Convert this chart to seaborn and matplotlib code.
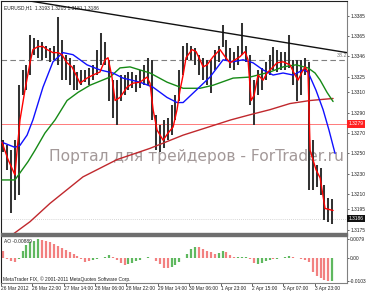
import numpy as np
import pandas as pd
import matplotlib
matplotlib.use("Agg")
import matplotlib.pyplot as plt
import matplotlib.transforms as mtrans
import seaborn as sns

# ---------------- data ----------------
symbol_info = "EURUSD,H1  1.3193 1.3205 1.3181 1.3186"
ao_info = "AO -0.00889"
copyright_info = "MetaTrader FIX, \u00a9 2001-2011 MetaQuotes Software Corp."
watermark = "Портал для трейдеров - ForTrader.ru"

bar_pos = list(range(1, 171, 2))  # bar index (hours, weekend skipped)
high = [1.3263, 1.3258, 1.3253, 1.3263, 1.3317, 1.3332, 1.3337, 1.3366, 1.3363, 1.3361,
        1.3359, 1.3356, 1.3354, 1.3356, 1.3384, 1.3361, 1.3347, 1.3344, 1.3337, 1.3330,
        1.3332, 1.3332, 1.3334, 1.3337, 1.3352, 1.3368, 1.3359, 1.3342, 1.3322, 1.3322,
        1.3327, 1.3327, 1.3330, 1.3330, 1.3327, 1.3332, 1.3337, 1.3344, 1.3342, 1.3288,
        1.3278, 1.3283, 1.3285, 1.3298, 1.3307, 1.3332, 1.3356, 1.3358, 1.3356, 1.3354,
        1.3347, 1.3344, 1.3342, 1.3342, 1.3352, 1.3356, 1.3376, 1.3361, 1.3354, 1.3350,
        1.3356, 1.3378, 1.3356, 1.3347, 1.3322, 1.3332, 1.3334, 1.3340, 1.3347, 1.3355,
        1.3352, 1.3350, 1.3350, 1.3366, 1.3342, 1.3342, 1.3342, 1.3344, 1.3340, 1.3263,
        1.3239, 1.3236, 1.3219, 1.3206, 1.3205]
low = [1.3251, 1.3234, 1.3192, 1.3204, 1.3209, 1.3307, 1.3312, 1.3327, 1.3347, 1.3344,
       1.3342, 1.3344, 1.3340, 1.3342, 1.3337, 1.3322, 1.3322, 1.3317, 1.3312, 1.3312,
       1.3317, 1.3320, 1.3317, 1.3322, 1.3327, 1.3337, 1.3337, 1.3302, 1.3285, 1.3278,
       1.3302, 1.3307, 1.3312, 1.3314, 1.3310, 1.3314, 1.3317, 1.3317, 1.3283, 1.3253,
       1.3251, 1.3255, 1.3263, 1.3268, 1.3283, 1.3302, 1.3327, 1.3342, 1.3342, 1.3337,
       1.3327, 1.3322, 1.3317, 1.3309, 1.3332, 1.3340, 1.3355, 1.3342, 1.3334, 1.3332,
       1.3337, 1.3347, 1.3340, 1.3298, 1.3278, 1.3307, 1.3312, 1.3322, 1.3327, 1.3332,
       1.3330, 1.3332, 1.3332, 1.3334, 1.3317, 1.3302, 1.3307, 1.3327, 1.3214, 1.3214,
       1.3217, 1.3209, 1.3185, 1.3183, 1.3181]

ma_red_x = [0.5, 3.6, 7.1, 8.2, 9.7, 12.2, 14.8, 16.3, 18.9, 21.4, 23.5, 26.5, 29.1, 31.1,
            33.7, 36.2, 38.3, 40.3, 43.9, 46.9, 50.5, 53.1, 54.6, 56.6, 58.2, 60.7, 64.3,
            67.3, 70.9, 74.5, 76.0, 77.6, 79.6, 82.7, 85.2, 87.8, 89.8, 91.3, 92.9, 94.4,
            97.4, 99.5, 101.5, 103.1, 105.1, 108.2, 111.7, 114.3, 116.8, 119.4, 121.9,
            124.5, 126.0, 127.6, 129.1, 131.1, 133.7, 135.7, 138.3, 140.8, 143.9, 147.4,
            150.0, 151.5, 153.6, 155.1, 156.6, 157.7, 160.7, 162.8, 165.3, 169.4]
ma_red_y = [1.3261, 1.3244, 1.3229, 1.3253, 1.3283, 1.3312, 1.3339, 1.3352, 1.3355, 1.3355,
            1.3352, 1.3349, 1.3349, 1.3347, 1.3339, 1.3335, 1.3327, 1.3319, 1.3324, 1.3327,
            1.3330, 1.3342, 1.3344, 1.3325, 1.3302, 1.3305, 1.3315, 1.3319, 1.3320, 1.3325,
            1.3319, 1.3293, 1.3273, 1.3263, 1.3270, 1.3276, 1.3293, 1.3312, 1.3327, 1.3344,
            1.3352, 1.3350, 1.3342, 1.3335, 1.3337, 1.3345, 1.3352, 1.3345, 1.3339, 1.3342,
            1.3345, 1.3350, 1.3342, 1.3302, 1.3307, 1.3327, 1.3322, 1.3329, 1.3334, 1.3339,
            1.3340, 1.3337, 1.3327, 1.3322, 1.3330, 1.3335, 1.3330, 1.3253, 1.3234, 1.3226,
            1.3196, 1.3194]

ma_blue_x = [0.5, 7.1, 9.7, 13.3, 16.3, 21.4, 26.5, 31.6, 36.7, 43.9, 50.5, 57.1, 62.2, 70.9,
             77.6, 84.7, 89.8, 92.9, 99.5, 106.6, 113.3, 118.4, 123.5, 128.6, 133.7, 138.8,
             143.9, 149.0, 154.1, 156.6, 160.7, 164.3, 167.3, 170.4]
ma_blue_y = [1.3261, 1.3256, 1.3258, 1.3268, 1.3283, 1.3315, 1.3340, 1.3349, 1.3347, 1.3337,
             1.3332, 1.3329, 1.3324, 1.3320, 1.3315, 1.3305, 1.3300, 1.3300, 1.3312, 1.3325,
             1.3342, 1.3340, 1.3342, 1.3339, 1.3332, 1.3327, 1.3329, 1.3327, 1.3332, 1.3330,
             1.3312, 1.3293, 1.3273, 1.3250]

ma_green_x = [0.5, 7.1, 9.7, 13.8, 17.3, 22.4, 27.6, 33.7, 39.3, 45.4, 55.6, 60.7, 65.8, 70.9,
              76.0, 84.7, 92.9, 101.5, 108.2, 118.4, 127.0, 137.2, 143.9, 150.5, 156.6,
              160.2, 162.8, 166.3, 169.4]
ma_green_y = [1.3224, 1.3224, 1.3231, 1.3242, 1.3253, 1.3270, 1.3283, 1.3302, 1.3310, 1.3317,
              1.3325, 1.3334, 1.3335, 1.3332, 1.3329, 1.3320, 1.3314, 1.3314, 1.3317, 1.3324,
              1.3325, 1.3330, 1.3335, 1.3337, 1.3334, 1.3329, 1.3322, 1.3310, 1.3301]

ma_slow_x = [5.6, 14.8, 25.0, 41.8, 59.2, 76.0, 92.9, 117.3, 127.0, 137.2, 147.4, 157.7, 169.4]
ma_slow_y = [1.3170, 1.3183, 1.3201, 1.3227, 1.3244, 1.3255, 1.3268, 1.3283, 1.3288, 1.3293,
             1.3299, 1.3302, 1.3304]

trend_x = [13.8, 176.5]
trend_y = [1.3400, 1.3349]
fib_level = 1.3342
fib_label = "38.2"
hline_level = 1.3279
last_price = 1.3186

ao = [0.0028, -0.0006, -0.0015, -0.0019, -0.0008, 0.0028, 0.0054, 0.0067, 0.0073, 0.0079,
      0.0077, 0.0071, 0.0065, 0.0058, 0.0050, 0.0042, 0.0034, 0.0025, 0.0015, 0.0006,
      -0.0008, -0.0018, -0.0017, -0.0012, -0.0008, -0.0004, 0.0002, 0.0012, 0.0004, -0.0012,
      -0.0024, -0.0033, -0.0030, -0.0024, -0.0016, -0.0009, -0.0004, 0.0003, -0.0004, -0.0015,
      -0.0030, -0.0045, -0.0047, -0.0043, -0.0034, -0.0020, -0.0003, 0.0015, 0.0035, 0.0046,
      0.0045, 0.0038, 0.0030, 0.0022, 0.0014, 0.0020, 0.0028, 0.0022, 0.0012, 0.0004,
      0.0003, 0.0004, 0.0002, -0.0008, -0.0022, -0.0026, -0.0022, -0.0014, -0.0010, -0.0008,
      -0.0006, -0.0004, 0.0004, 0.0006, 0.0004, -0.0002, -0.0008, -0.0010, -0.0018, -0.0062,
      -0.0080, -0.0090, -0.0098, -0.0103, -0.0100]
ao_up = [0, 0, 0, 0, 1, 1, 1, 1, 1, 1, 0, 0, 0, 0, 0, 0, 0, 0, 0, 0,
         0, 0, 0, 1, 1, 1, 1, 1, 0, 0, 0, 0, 1, 1, 1, 1, 0, 1, 0, 0,
         0, 0, 0, 1, 1, 1, 1, 1, 1, 1, 0, 0, 0, 0, 0, 1, 1, 0, 0, 0,
         1, 1, 1, 0, 0, 1, 1, 1, 1, 0, 1, 1, 1, 1, 0, 0, 0, 0, 0, 0,
         0, 0, 0, 0, 1]

main_ticks = [1.3385, 1.3365, 1.3346, 1.3325, 1.3310, 1.3290, 1.3270, 1.3250, 1.3230,
              1.3210, 1.3195, 1.3175]
ao_ticks = [0.0079, 0.0, -0.0103]
ao_tick_labels = ["0.0079", "0.00", "-0.0103"]
time_ticks = [0, 16, 32, 48, 64, 80, 96, 112, 128, 144, 160]
time_labels = ["26 Mar 2012", "26 Mar 22:00", "27 Mar 14:00", "28 Mar 06:00", "28 Mar 22:00",
               "29 Mar 14:00", "30 Mar 06:00", "1 Apr 23:00", "2 Apr 15:00", "3 Apr 07:00",
               "3 Apr 23:00"]

# ---------------- figure ----------------
sns.set_theme(style="white")
plt.rcParams["font.family"] = ["Liberation Sans", "DejaVu Sans"]

W, H = 366, 293
fig = plt.figure(figsize=(W / 100, H / 100), dpi=100)
fig.patch.set_facecolor("white")


def fx(px):
    return px / W


def fy(py):
    return 1 - py / H


ax = fig.add_axes([fx(1), fy(233), fx(347) - fx(1), fy(1) - fy(233)])
ax2 = fig.add_axes([fx(1), fy(283), fx(347) - fx(1), fy(236) - fy(283)])
XMAX = 176.5
for a in (ax, ax2):
    a.set_xlim(0, XMAX)
    a.set_facecolor("white")
ax.set_ylim(1.31719, 1.33997)
ax2.set_ylim(-0.01104, 0.00931)

small = 3.5

# horizontal levels
ax.axhline(hline_level, color="#ff7a7a", lw=0.7, zorder=1)
ax.axhline(fib_level, color="#808080", lw=0.8, ls=(0, (5, 3)), zorder=1)
ax.axhline(last_price, color="#c8c8c8", lw=0.6, ls=(0, (1, 1.5)), zorder=1)

# watermark (behind the data)
ax.text(0.566, 0.33, watermark, transform=ax.transAxes, ha="center", va="center",
        fontsize=11.2, color="#a39999", family="DejaVu Sans", zorder=2)

# price bars
ax.vlines(bar_pos, low, high, color="#333333", lw=1.45, zorder=3)

# moving averages
ma_df = pd.concat([
    pd.DataFrame({"x": ma_slow_x, "y": ma_slow_y, "ma": "slow"}),
    pd.DataFrame({"x": ma_green_x, "y": ma_green_y, "ma": "green"}),
    pd.DataFrame({"x": ma_blue_x, "y": ma_blue_y, "ma": "blue"}),
    pd.DataFrame({"x": ma_red_x, "y": ma_red_y, "ma": "red"}),
])
sns.lineplot(data=ma_df, x="x", y="y", hue="ma", estimator=None, sort=False,
             palette={"slow": "#c0282d", "green": "#168a16", "blue": "#1010ff", "red": "#ff0000"},
             lw=1.0, legend=False, ax=ax, zorder=4)

# trend line
ax.plot(trend_x, trend_y, color="#111111", lw=1.0, zorder=5, clip_on=True)

# AO histogram
ao_colors = ["#5fb85f" if u else "#f28080" for u in ao_up]
ax2.vlines(bar_pos, 0, ao, colors=ao_colors, lw=1.6)

# axes styling
for a in (ax, ax2):
    for s in a.spines.values():
        s.set_linewidth(0.8)
    a.spines["left"].set_color("#202020")
    a.spines["right"].set_color("#808080")
ax.spines["top"].set_color("#202020")
ax.spines["bottom"].set_visible(False)
ax2.spines["top"].set_visible(False)
ax2.spines["bottom"].set_color("#808080")

ax.yaxis.tick_right()
ax.set_yticks(main_ticks)
ax.set_yticklabels([f"{t:.4f}" for t in main_ticks])
ax.tick_params(axis="y", right=True, left=False, length=1.5, width=0.5, pad=1.0,
               labelsize=small, colors="#222222")
ax.set_xticks([])
ax.set_xlabel("")
ax.set_ylabel("")

ax2.yaxis.tick_right()
ax2.set_yticks(ao_ticks)
ax2.set_yticklabels(ao_tick_labels)
ax2.tick_params(axis="y", right=True, left=False, length=1.5, width=0.5, pad=0.6,
                labelsize=small, colors="#222222")
ax2.set_xticks(time_ticks)
ax2.set_xticklabels(time_labels, ha="left")
ax2.tick_params(axis="x", bottom=True, length=2, width=0.5, pad=0.4, labelsize=small,
                colors="#222222")
ax2.set_xlabel("")
ax2.set_ylabel("")

# separator between panes
fig.patches.append(plt.Rectangle((fx(1), fy(236)), fx(347) - fx(1), fy(233) - fy(236),
                                 transform=fig.transFigure, color="#6e6e6e", zorder=10))

# highlighted price labels on the right axis
tr = mtrans.blended_transform_factory(ax.transAxes, ax.transData)
ax.text(1.004, hline_level, f"{hline_level:.4f}", transform=tr, ha="left", va="center",
        fontsize=small, color="white", clip_on=False,
        bbox=dict(boxstyle="square,pad=0.25", fc="#ff2020", ec="none"))
ax.text(1.004, last_price, f"{last_price:.4f}", transform=tr, ha="left", va="center",
        fontsize=small, color="white", clip_on=False,
        bbox=dict(boxstyle="square,pad=0.25", fc="#111111", ec="none"))
ax.text(0.999, fib_level + 0.00022, fib_label, transform=tr, ha="right", va="bottom",
        fontsize=small + 0.3, color="#707070")

# info texts
ax.text(0.009, 0.983, symbol_info, transform=ax.transAxes, ha="left", va="top",
        fontsize=small, color="#222222")
ax2.text(0.009, 0.94, ao_info, transform=ax2.transAxes, ha="left", va="top",
         fontsize=small, color="#222222")
ax2.text(0.006, 0.03, copyright_info, transform=ax2.transAxes, ha="left", va="bottom",
         fontsize=small, color="#222222")

fig.savefig("out.png", dpi=100, facecolor="white")
